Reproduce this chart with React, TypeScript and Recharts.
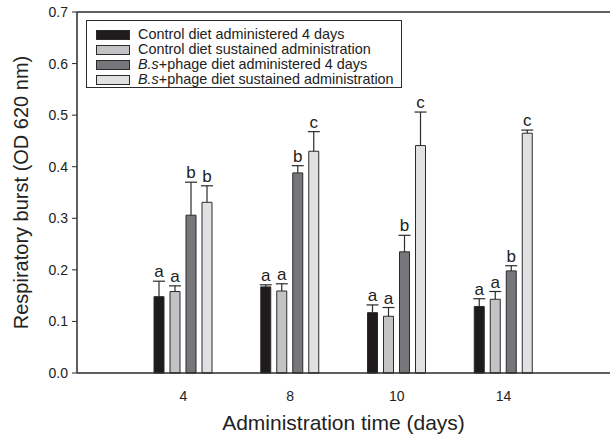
import React from 'react';
import {
  BarChart,
  Bar,
  XAxis,
  YAxis,
  LabelList,
  ReferenceLine,
} from 'recharts';

const days = ['4', '8', '10', '14'];

const control4 = [0.148, 0.167, 0.117, 0.129];
const control4Err = [0.03, 0.004, 0.015, 0.015];
const control4Sig = ['a', 'a', 'a', 'a'];

const controlSus = [0.158, 0.159, 0.11, 0.143];
const controlSusErr = [0.011, 0.014, 0.017, 0.015];
const controlSusSig = ['a', 'a', 'a', 'a'];

const phage4 = [0.306, 0.388, 0.235, 0.198];
const phage4Err = [0.064, 0.014, 0.032, 0.01];
const phage4Sig = ['b', 'b', 'b', 'b'];

const phageSus = [0.331, 0.43, 0.441, 0.465];
const phageSusErr = [0.032, 0.038, 0.065, 0.006];
const phageSusSig = ['b', 'c', 'c', 'c'];

const yTicks = [0, 0.1, 0.2, 0.3, 0.4, 0.5, 0.6, 0.7];

const series = [
  { key: 's1', fill: '#1f1b1c', label: 'Control diet administered 4 days', italic: '' },
  { key: 's2', fill: '#c3c3c5', label: 'Control diet sustained administration', italic: '' },
  { key: 's3', fill: '#77777b', label: '+phage diet administered 4 days', italic: 'B.s' },
  { key: 's4', fill: '#e1e1e3', label: '+phage diet sustained administration', italic: 'B.s' },
];

const data = days.map((d, i) => ({
  day: d,
  s1: control4[i],
  s1e: control4Err[i],
  s1l: control4Sig[i],
  s2: controlSus[i],
  s2e: controlSusErr[i],
  s2l: controlSusSig[i],
  s3: phage4[i],
  s3e: phage4Err[i],
  s3l: phage4Sig[i],
  s4: phageSus[i],
  s4e: phageSusErr[i],
  s4l: phageSusSig[i],
}));

const FONT = '"Liberation Sans", Arial, Helvetica, sans-serif';
const INK = '#2b2b2b';

// whisker drawn on the transparent stacked segment (mean -> mean + err)
const Whisker = (props: any) => {
  const { x, y, width, height } = props;
  const cx = x + width / 2;
  return (
    <g>
      <line x1={cx} y1={y} x2={cx} y2={y + height} stroke={INK} strokeWidth={1.2} />
      <line x1={cx - 6} y1={y} x2={cx + 6} y2={y} stroke={INK} strokeWidth={1.2} />
    </g>
  );
};

const LegendBox = () => (
  <div
    style={{
      position: 'absolute',
      left: 86,
      top: 20,
      border: `1px solid ${INK}`,
      width: 316,
      height: 68,
      boxSizing: 'border-box',
      padding: '6px 0 0 9px',
      fontFamily: FONT,
      fontSize: 14.4,
      lineHeight: '15px',
      color: '#222',
      background: '#fff',
    }}
  >
    {series.map((s) => (
      <div key={s.key} style={{ display: 'flex', alignItems: 'center', height: 15 }}>
        <span
          style={{
            display: 'inline-block',
            width: 32,
            height: 8,
            background: s.fill,
            border: `1px solid ${INK}`,
            marginRight: 8,
          }}
        />
        <span>
          {s.italic && <i>{s.italic}</i>}
          {s.label}
        </span>
      </div>
    ))}
  </div>
);

const YLabel = (props: any) => {
  const { viewBox } = props;
  const cy = viewBox.y + viewBox.height / 2;
  return (
    <text
      x={21}
      y={cy}
      transform={`rotate(-90, 21, ${cy})`}
      textAnchor="middle"
      dominantBaseline="central"
      fontSize={20}
      fontFamily={FONT}
      fill="#222"
    >
      Respiratory burst (OD 620 nm)
    </text>
  );
};

export default function App() {
  return (
    <div style={{ position: 'absolute', left: 0, top: 0, width: 610, height: 440, background: '#fff' }}>
      <BarChart
        width={610}
        height={440}
        data={data}
        margin={{ top: 12, right: 0, bottom: 37, left: 0 }}
        barSize={10}
        barGap={6}
      >
        <XAxis
          dataKey="day"
          padding={{ left: 53, right: 53 }}
          tickLine={false}
          axisLine={{ stroke: INK, strokeWidth: 1.5 }}
          tick={{ fill: '#222', fontSize: 14, fontFamily: FONT }}
          tickMargin={12}
          height={30}
          label={{
            value: 'Administration time (days)',
            position: 'insideBottom',
            offset: -27,
            fill: '#222',
            fontSize: 21,
            fontFamily: FONT,
          }}
        />
        <YAxis
          width={77}
          domain={[0, 0.7]}
          ticks={yTicks}
          interval={0}
          tickFormatter={(v: number) => v.toFixed(1)}
          tickSize={5}
          tickMargin={4}
          tickLine={{ stroke: INK }}
          axisLine={{ stroke: INK, strokeWidth: 1.5 }}
          tick={{ fill: '#222', fontSize: 14, fontFamily: FONT }}
          label={<YLabel />}
        />
        <ReferenceLine y={0.7} stroke={INK} strokeWidth={1.5} />
        {series.map((s) => [
          <Bar
            key={s.key}
            dataKey={s.key}
            stackId={s.key}
            fill={s.fill}
            stroke={INK}
            strokeWidth={1}
            isAnimationActive={false}
          />,
          <Bar
            key={s.key + 'e'}
            dataKey={s.key + 'e'}
            stackId={s.key}
            fill="none"
            shape={<Whisker />}
            isAnimationActive={false}
          >
            <LabelList
              dataKey={s.key + 'l'}
              position="top"
              offset={4}
              fill="#222"
              fontSize={17}
              fontFamily={FONT}
            />
          </Bar>,
        ])}
      </BarChart>
      <LegendBox />
    </div>
  );
}
